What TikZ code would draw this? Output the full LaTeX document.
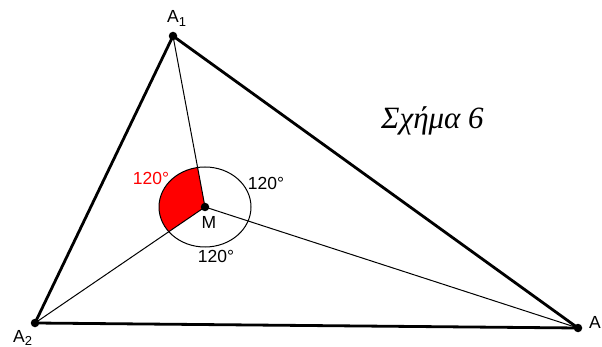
\documentclass[tikz,border=0pt]{standalone}
\usepackage{fontspec}
\setmainfont{Liberation Sans}
\newfontfamily\timesfont{Liberation Serif}
\newcommand{\sbs}[1]{\raisebox{-0.35ex}{\fontsize{13}{13}\selectfont #1}}
\begin{document}
\begin{tikzpicture}[x=1pt,y=-1pt,
  side/.style={line width=2.8pt},
  inner/.style={line width=1pt},
  pt/.style={circle,fill=black,inner sep=0pt,minimum size=8.5pt},
  lbl/.style={font=\fontsize{17.5}{17.5}\selectfont,inner sep=0pt}]
\useasboundingbox (0,0) rectangle (602,347);
\coordinate (A1) at (173,36);
\coordinate (A2) at (35,323);
\coordinate (A3) at (578,328);
\coordinate (M) at (205,207);
\begin{scope}
  \clip (M) -- (A1) -- (A2) -- cycle;
  \fill[red] (M) ellipse [x radius=46, y radius=40];
\end{scope}
\draw[inner] (M) ellipse [x radius=46, y radius=40];
\draw[inner] (M) -- (A1);
\draw[inner] (M) -- (A2);
\draw[inner] (M) -- (A3);
\draw[side,line join=round] (A1) -- (A2) -- (A3) -- cycle;
\node[pt] (p1) at (A1) {};
\node[pt] (p2) at (A2) {};
\node[pt] (p3) at (A3) {};
\node[pt] (pm) at (M) {};
\node[lbl,anchor=base west] (l1) at (167,23) {A\sbs{1}};
\node[lbl,anchor=base west] (l2) at (13,342) {A\sbs{2}};
\node[lbl,anchor=base west] (l3) at (589,328) {A};
\node[lbl] (lm) at (209,222) {M};
\node[lbl,text=red] (ar) at (151,178) {120°};
\node[lbl] (ab) at (266,183) {120°};
\node[lbl] (ac) at (216,256) {120°};
\node[inner sep=0pt,anchor=base west,font=\timesfont\itshape\fontsize{31}{31}\selectfont] (t) at (381,129) {Σχήμα 6};
\end{tikzpicture}
\end{document}
